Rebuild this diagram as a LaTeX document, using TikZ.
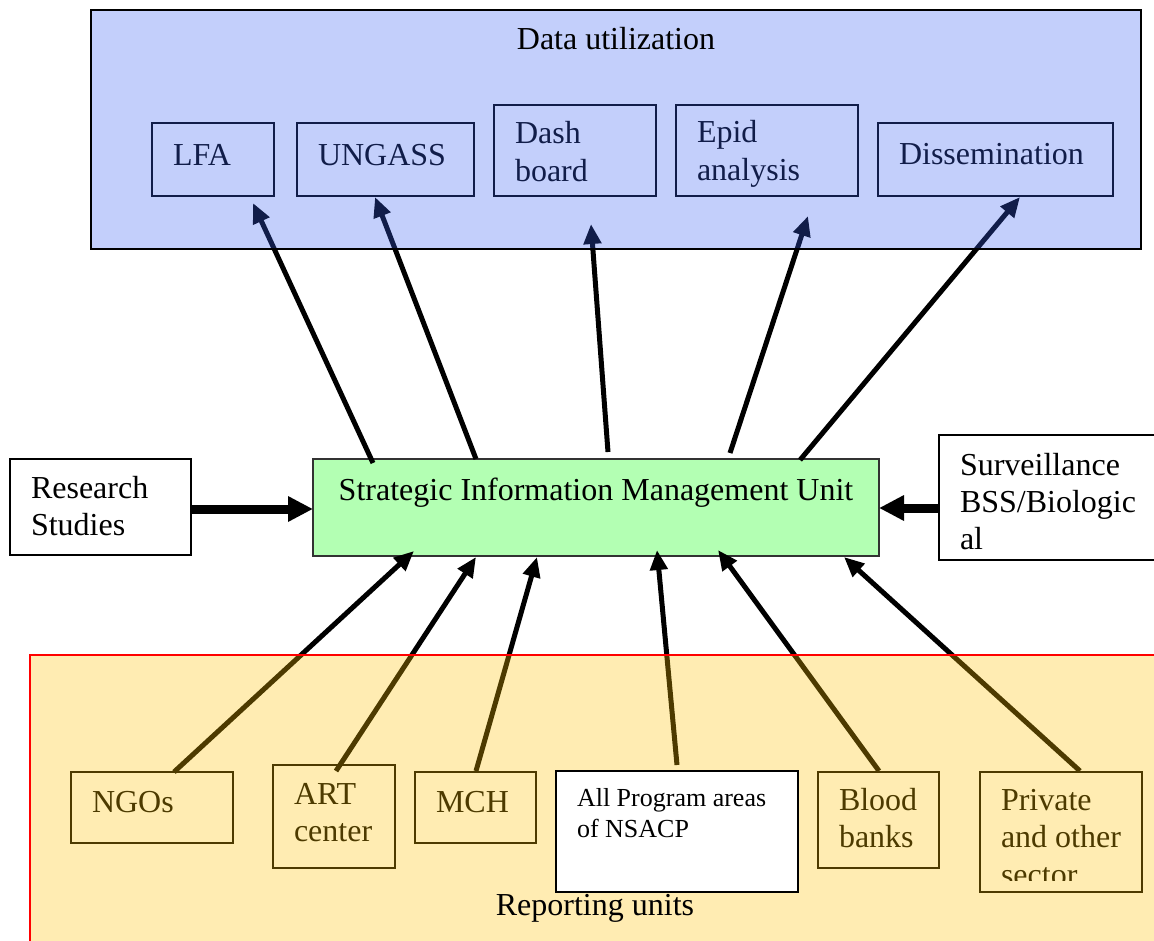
\documentclass[tikz,border=0pt]{standalone}
\usepackage{fontspec}
\setmainfont{Liberation Serif}
\usetikzlibrary{arrows.meta}
\definecolor{bluefill}{RGB}{58,98,245}
\definecolor{yelfill}{RGB}{255,195,0}
\definecolor{greenfill}{RGB}{179,255,179}
\definecolor{greenline}{RGB}{50,50,50}
\tikzset{
  box/.style={draw=black, line width=2pt, inner sep=0pt, outer sep=0pt, anchor=north west},
  txt/.style={inner sep=0pt, outer sep=0pt, anchor=base west, font=\fontsize{32}{37.5}\selectfont},
  smalltxt/.style={inner sep=0pt, outer sep=0pt, anchor=base west, font=\fontsize{26}{31}\selectfont},
  arr/.style={line width=5pt, -{Triangle[length=20pt,width=17pt]}},
  bigarr/.style={line width=9pt, -{Triangle[length=25pt,width=24pt]}},
}
\begin{document}
\begin{tikzpicture}[x=1pt,y=-1pt]
\clip (0,0) rectangle (1154,941);
\fill[white] (0,0) rectangle (1154,941);

% central unit
\node[box, draw=greenline, fill=greenfill, minimum width=566pt, minimum height=97pt] (simu) at (313,459) {};
\node[txt, anchor=base] (simut) at (596,500) {Strategic Information Management Unit};

% side sources
\node[box, fill=white, minimum width=181pt, minimum height=96pt] (res) at (10,459) {};
\node[txt] (rest) at (31,498) {\parbox[t]{300pt}{Research\\Studies}};
\node[box, fill=white, minimum width=240pt, minimum height=125pt] (surv) at (939,435) {};
\node[txt, font=\fontsize{32}{37}\selectfont] (survt) at (960,475) {\parbox[t]{300pt}{Surveillance\\BSS/Biologic\\al}};

% data utilization boxes
\node[box, minimum width=122pt, minimum height=73pt] (lfa) at (152,123) {};
\node[txt] (lfat) at (173,166) {LFA};
\node[box, minimum width=177pt, minimum height=73pt] (ung) at (297,123) {};
\node[txt] (ungt) at (318,166) {UNGASS};
\node[box, minimum width=162pt, minimum height=91pt] (dash) at (494,105) {};
\node[txt] (dasht) at (515,144) {\parbox[t]{300pt}{Dash\\board}};
\node[box, minimum width=182pt, minimum height=91pt] (epid) at (676,105) {};
\node[txt] (epidt) at (697,143) {\parbox[t]{300pt}{Epid\\analysis}};
\node[box, minimum width=235pt, minimum height=73pt] (diss) at (878,123) {};
\node[txt] (disst) at (899,165) {Dissemination};

% reporting unit boxes
\node[box, minimum width=162pt, minimum height=71pt] (ngo) at (71,772) {};
\node[txt] (ngot) at (92,812) {NGOs};
\node[box, minimum width=122pt, minimum height=103pt] (art) at (273,765) {};
\node[txt] (artt) at (294,804) {\parbox[t]{300pt}{ART\\center}};
\node[box, minimum width=121pt, minimum height=71pt] (mch) at (415,772) {};
\node[txt] (mcht) at (436,812) {MCH};
\node[box, minimum width=121pt, minimum height=96pt] (blood) at (818,772) {};
\node[txt] (bloodt) at (839,810) {\parbox[t]{300pt}{Blood\\banks}};
\node[box, minimum width=162pt, minimum height=120pt] (priv) at (980,772) {};
\begin{scope}
\clip (980,772) rectangle (1142,880);
\node[txt] (privt) at (1001,810) {\parbox[t]{300pt}{Private\\and other\\sector}};
\end{scope}
\node[box, minimum width=242pt, minimum height=121pt] (allp) at (556,771) {};

% upward arrows to data utilization
\draw[arr] ([shift={(60,4)}]simu.north west) -- ([shift={(101,7)}]lfa.south west);
\draw[arr] ([shift={(163,0)}]simu.north west) -- ([shift={(78,1)}]ung.south west);
\draw[arr] ([shift={(295,-7)}]simu.north west) -- ([shift={(97,28)}]dash.south west);
\draw[arr] ([shift={(417,-6)}]simu.north west) -- ([shift={(132,20)}]epid.south west);
\draw[arr] ([shift={(487,1)}]simu.north west) -- ([shift={(142,1)}]diss.south west);

% arrows from reporting units
\draw[arr] ([shift={(103,0)}]ngo.north west) -- ([shift={(101,-5)}]simu.south west);
\draw[arr] ([shift={(63,6)}]art.north west) -- ([shift={(163,1)}]simu.south west);
\draw[arr] ([shift={(61,-1)}]mch.north west) -- ([shift={(224,1)}]simu.south west);
\draw[arr] ([shift={(121,-6)}]allp.north west) -- ([shift={(344,-6)}]simu.south west);
\draw[arr] ([shift={(61,-1)}]blood.north west) -- ([shift={(405,-6)}]simu.south west);
\draw[arr] ([shift={(100,-1)}]priv.north west) -- ([shift={(531,1)}]simu.south west);

% side arrows
\draw[bigarr] ([shift={(0,2)}]res.east) -- ([shift={(0,1.5)}]simu.west);
\draw[bigarr] ([shift={(0,10.5)}]surv.west) -- ([shift={(0,0.5)}]simu.east);

% translucent group panels
\draw[line width=2.5pt, draw=black, fill=bluefill, fill opacity=0.3] (91,10) rectangle (1141,249);
\draw[line width=1.5pt, draw=red, fill=yelfill, fill opacity=0.3] (30,655) rectangle (1180,980);

% items above the panels
\node[box, line width=2.5pt, fill=white, minimum width=242pt, minimum height=121pt] (allpw) at (556,771) {};
\node[smalltxt] (allpt) at (577,806) {\parbox[t]{300pt}{All Program areas\\of NSACP}};
\node[txt, anchor=base] (datau) at (616,50) {Data utilization};
\node[txt, anchor=base] (repu) at (595,915) {Reporting units};
\end{tikzpicture}
\end{document}
